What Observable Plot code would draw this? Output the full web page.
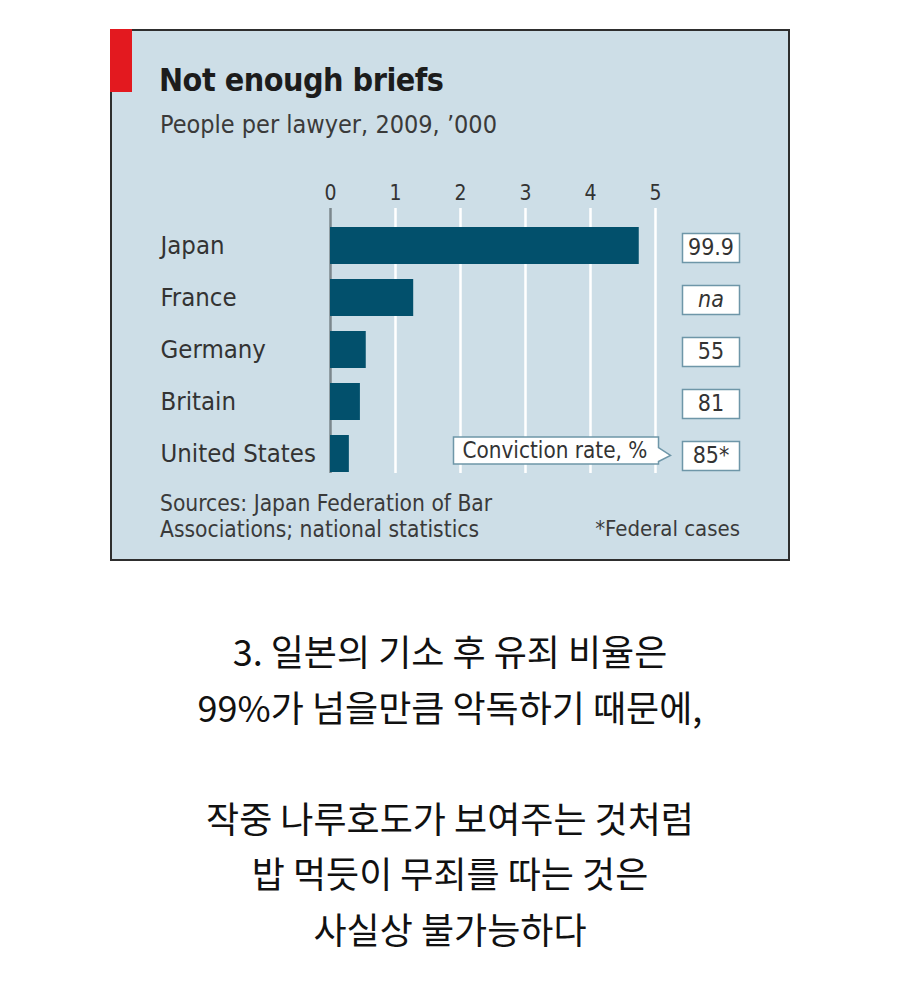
<!DOCTYPE html>
<html>
<head>
<meta charset="utf-8">
<script src="https://cdn.jsdelivr.net/npm/d3@7"></script>
<script src="https://cdn.jsdelivr.net/npm/@observablehq/plot@0.6"></script>
<style>
  html, body { margin: 0; padding: 0; background: #ffffff; }
  #page { position: relative; width: 900px; height: 1000px; overflow: hidden; }
  .cond { font-family: "DejaVu Sans Condensed", "DejaVu Sans", sans-serif; font-stretch: condensed; }
  #panel { position: absolute; left: 110px; top: 29px; width: 680px; height: 532px; box-sizing: border-box;
           border: 2px solid #2e2e2e; background: #cddee7; }
  #redbar { position: absolute; left: 110px; top: 29px; width: 22px; height: 63px; background: #e3191f; }
  #title { position: absolute; left: 159px; top: 64px; font-size: 32px; line-height: 32px; letter-spacing: -0.5px; font-weight: bold; color: #1c1c1c; white-space: nowrap; }
  #subtitle { position: absolute; left: 160px; top: 112px; font-size: 25px; line-height: 25px; color: #3a3a3a; white-space: nowrap; }
  #chart { position: absolute; left: 110px; top: 160px; }
  #sources { position: absolute; left: 160px; top: 490px; font-size: 22.6px; line-height: 26px; color: #3a3a3a; white-space: nowrap; }
  #footnote { position: absolute; right: 160px; top: 516px; font-size: 22px; line-height: 26px; color: #3a3a3a; white-space: nowrap; }
  #korean { position: absolute; left: 0; width: 900px; top: 623px; text-align: center;
            font-family: "Noto Sans CJK KR", sans-serif; font-size: 36px; line-height: 55.5px; color: #111; }
</style>
</head>
<body>
<div id="page">
  <div id="panel"></div>
  <div id="redbar"></div>
  <div id="title" class="cond">Not enough briefs</div>
  <div id="subtitle" class="cond">People per lawyer, 2009, ’000</div>
  <div id="chart"></div>
  <div id="sources" class="cond">Sources: Japan Federation of Bar<br>Associations; national statistics</div>
  <div id="footnote" class="cond">*Federal cases</div>
  <div id="korean">3. 일본의 기소 후 유죄 비율은<br>99%가 넘을만큼 악독하기 때문에,<br>&nbsp;<br>작중 나루호도가 보여주는 것처럼<br>밥 먹듯이 무죄를 따는 것은<br>사실상 불가능하다</div>
</div>
<script>
// ---- data ----
const countries = ["Japan", "France", "Germany", "Britain", "United States"];
const peoplePerLawyer = [4.75, 1.28, 0.55, 0.46, 0.29];   // '000 people per lawyer, 2009
const convictionRate = ["99.9", "na", "55", "81", "85*"]; // conviction rate, %
const xTicks = [0, 1, 2, 3, 4, 5];
const gridTicks = [1, 2, 3, 4, 5];
const calloutRows = [{country: "United States", label: "Conviction rate, %"}];

const rows = countries.map((c, i) => ({country: c, value: peoplePerLawyer[i], rate: convictionRate[i]}));

// custom symbols
const boxSymbol = {draw(ctx) { ctx.rect(-28.5, -14.5, 57, 29); }};
const calloutSymbol = {draw(ctx) {
  ctx.moveTo(-202, -13.5);
  ctx.lineTo(3, -13.5);
  ctx.lineTo(3, -3);
  ctx.lineTo(15, 5);
  ctx.lineTo(3, 11);
  ctx.lineTo(3, 13.5);
  ctx.lineTo(-202, 13.5);
  ctx.closePath();
}};

const FONT = "'DejaVu Sans Condensed', 'DejaVu Sans', sans-serif";
const TXT = "#333333";

const chart = Plot.plot({
  width: 680,
  height: 330,
  marginLeft: 220,
  marginRight: 135,
  marginTop: 58.8,
  marginBottom: 9.2,
  style: {background: "transparent", fontFamily: FONT, overflow: "visible", fontStretch: "condensed"},
  x: {domain: [0, 5], axis: null},
  y: {domain: countries, axis: null, paddingInner: 0.294, paddingOuter: 0.147},
  marks: [
    Plot.ruleX(gridTicks, {x: d => d, stroke: "#ffffff", strokeWidth: 2.5, insetTop: -10.8, insetBottom: 7.8}),
    Plot.ruleX([0], {x: d => d, stroke: "#7b878d", strokeWidth: 2.5, insetTop: -10.8, insetBottom: 7.8}),
    Plot.barX(rows, {x: "value", y: "country", fill: "#02506c"}),
    Plot.text(xTicks, {x: d => d, text: d => String(d), frameAnchor: "top", textAnchor: "middle", dy: -34, fontSize: 21, fill: TXT}),
    Plot.text(rows, {y: "country", text: "country", frameAnchor: "left", textAnchor: "start", dx: -170, fontSize: 25.5, fill: TXT}),
    Plot.dot(calloutRows, {y: "country", frameAnchor: "right", dy: -3.5, symbol: calloutSymbol, fill: "#ffffff", stroke: "#6e96a8", strokeWidth: 1.5}),
    Plot.text(calloutRows, {y: "country", text: "label", frameAnchor: "right", textAnchor: "start", dx: -193, dy: -3.5, fontSize: 22.3, fill: TXT}),
    Plot.dot(rows, {y: "country", frameAnchor: "right", dx: 55.5, dy: 2, symbol: boxSymbol, fill: "#ffffff", stroke: "#6e96a8", strokeWidth: 1.5}),
    Plot.text(rows, {filter: d => d.rate !== "na", y: "country", text: "rate", frameAnchor: "right", textAnchor: "middle", dx: 55.5, dy: 2, fontSize: 23, fill: TXT}),
    Plot.text(rows, {filter: d => d.rate === "na", y: "country", text: "rate", frameAnchor: "right", textAnchor: "middle", dx: 55.5, dy: 2, fontSize: 23, fontStyle: "italic", fill: TXT})
  ]
});
document.getElementById("chart").appendChild(chart);
</script>
</body>
</html>
